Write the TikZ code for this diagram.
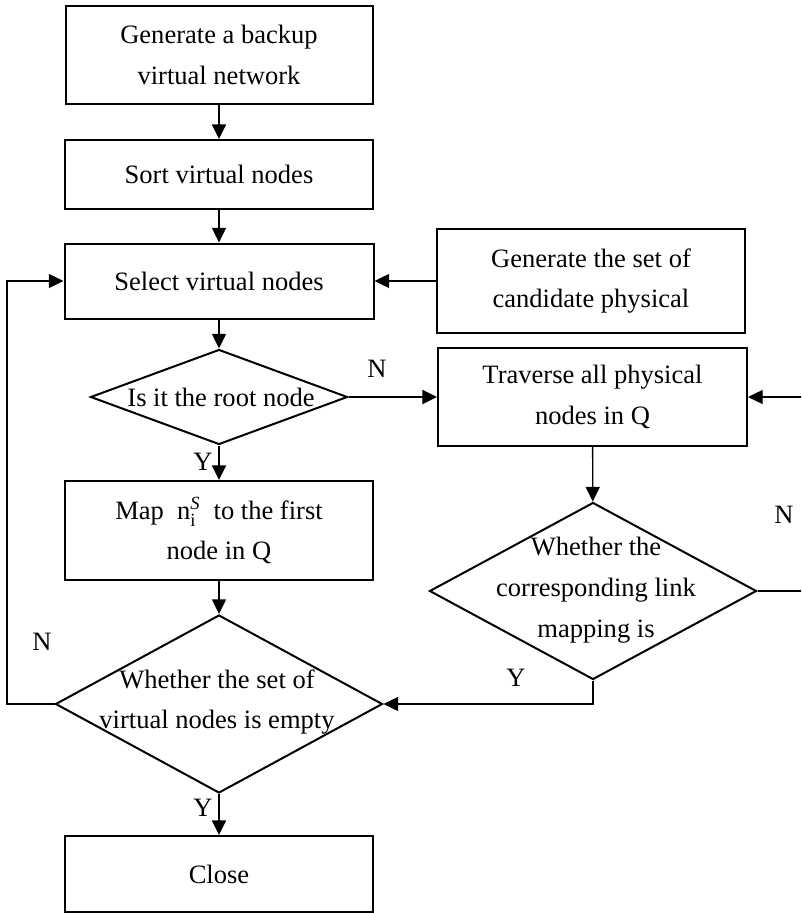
\documentclass[tikz,border=0pt]{standalone}
\usepackage{fontspec}
\setmainfont{Liberation Serif}
\usetikzlibrary{shapes.geometric,arrows.meta}
\begin{document}
\begin{tikzpicture}[x=0.75pt,y=-0.75pt,
  font=\fontsize{19.9pt}{30.5pt}\selectfont,
  box/.style={draw, line width=1.5pt, rectangle, inner sep=0pt, align=center},
  dia/.style={draw, line width=1.5pt, diamond, inner sep=0pt},
  txt/.style={inner sep=0pt, align=center},
  conn/.style={line width=1pt, -{Triangle[length=11pt,width=10.5pt]}},
  connb/.style={conn, line width=1.6pt},
  lab/.style={inner sep=0pt}]
\clip (0,0) rectangle (801,913);

% main column
\node[box, minimum width={307*0.75pt}, minimum height={98*0.75pt}] (b1) at (219,55)
  {Generate a backup\\virtual network};
\node[box, minimum width={308*0.75pt}, minimum height={69*0.75pt}] (b2) at (219,174.5)
  {Sort virtual nodes};
\node[box, minimum width={309*0.75pt}, minimum height={75*0.75pt}] (b3) at (219,281)
  {Select virtual nodes};
\node[dia, minimum width={257*0.75pt}, minimum height={95*0.75pt}] (d1) at (219,397) {};
\node[txt] (d1t) at (221,397) {Is it the root node};
\node[box, minimum width={308*0.75pt}, minimum height={99*0.75pt}] (map) at (219,530.5)
  {Map \ $\mathrm{n}_{\mathrm{i}}^{\mathit{S}}$ \ to the first\\node in Q};
\node[dia, minimum width={327*0.75pt}, minimum height={178*0.75pt}] (d3) at (219,704) {};
\node[txt] (d3t) at (217,702) {Whether the set of\\virtual nodes is empty};
\node[box, minimum width={308*0.75pt}, minimum height={76*0.75pt}] (close) at (219,874)
  {Close};

% right column
\node[box, minimum width={308*0.75pt}, minimum height={104*0.75pt}] (cand) at (591,281)
  {Generate the set of\\candidate physical};
\node[box, minimum width={309*0.75pt}, minimum height={98*0.75pt}] (trav) at (592.5,397)
  {Traverse all physical\\nodes in Q};
\node[dia, minimum width={327*0.75pt}, minimum height={177*0.75pt}] (d2) at (593,591) {};
\node[txt] (d2t) at (596,590) {Whether the\\corresponding link\\mapping is};

% connectors
\draw[connb] (b1) -- (b2);
\draw[conn] (b2) -- (b3);
\draw[conn] (b3) -- (d1);
\draw[connb] (d1) -- (map);
\draw[conn] (map) -- (d3);
\draw[connb] (d3) -- (close);
\draw[connb] (d1.east) -- (d1.east -| trav.west);
\draw[conn] (cand.west) -- (cand.west -| b3.east);
\draw[conn] (trav) -- (d2);
\draw[conn] (d2.south) |- (d3.east);
\draw[conn] (d3.west) -- (7,704) |- (b3.west);
\draw[conn] (d2.east) -- (830,591) |- (trav.east);

% branch labels
\node[lab] (n1) at (377,369) {N};
\node[lab] (y1) at (203,462) {Y};
\node[lab] (n2) at (784,515) {N};
\node[lab] (y2) at (516,678) {Y};
\node[lab] (n3) at (42,642) {N};
\node[lab] (y3) at (203,808) {Y};
\end{tikzpicture}
\end{document}
